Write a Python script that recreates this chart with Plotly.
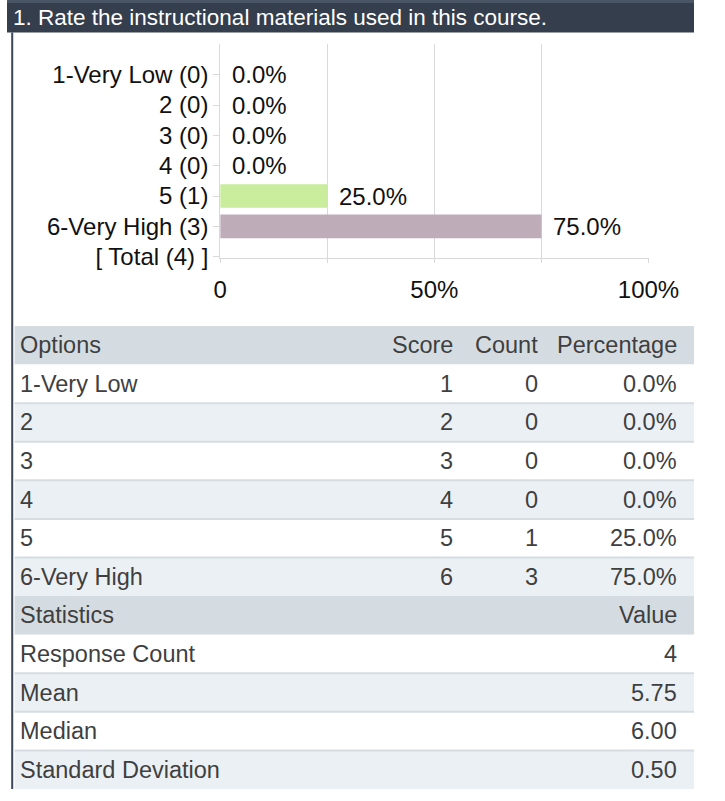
import plotly.graph_objects as go

# ---------------- data ----------------
options = ["1-Very Low", "2", "3", "4", "5", "6-Very High"]
scores = [1, 2, 3, 4, 5, 6]
counts = [0, 0, 0, 0, 1, 3]
percentages = [0.0, 0.0, 0.0, 0.0, 25.0, 75.0]
total_count = 4
x_tick_vals = [0, 25, 50, 75, 100]
x_tick_text = ["0", "", "50%", "", "100%"]
stats_labels = ["Response Count", "Mean", "Median", "Standard Deviation"]
stats_values = ["4", "5.75", "6.00", "0.50"]
title_text = "1. Rate the instructional materials used in this course."

# ---------------- styles ----------------
W, H = 725, 801
FONT = "Arial, 'Liberation Sans', sans-serif"
bar_colors = ["#cccccc", "#cccccc", "#cccccc", "#cccccc", "#c9ec9d", "#bfacb9"]
grid_col = "#d9d9d9"
txt_col = "#111111"
tbl_txt = "#3f3f3f"
hdr_fill = "#d5dce1"
light_fill = "#ebf0f4"
sep_col = "#d6dde2"
CHART_FS = 24
TABLE_FS = 23.5
TITLE_FS = 22.5

cat_labels = [f"{o} ({c})" for o, c in zip(options, counts)] + [f"[ Total ({total_count}) ]"]
cat_idx = list(range(len(cat_labels)))

fig = go.Figure()
fig.add_trace(go.Bar(
    x=percentages, y=cat_idx[:len(percentages)], orientation="h",
    marker=dict(color=bar_colors, line=dict(width=0)),
    width=0.78, hoverinfo="skip", showlegend=False,
))

# value labels next to bars
annotations = []
for i, p in enumerate(percentages):
    annotations.append(dict(
        x=p, y=i, xref="x", yref="y", text=f"{p:.1f}%", showarrow=False,
        xanchor="left", yanchor="middle", xshift=10,
        font=dict(family=FONT, size=CHART_FS, color=txt_col),
    ))

# title bar
shapes = [
    dict(type="rect", xref="paper", yref="paper", x0=0, x1=1, y0=1 - 33 / H, y1=1,
         fillcolor="#343e4d", line=dict(width=0), layer="below"),
    dict(type="rect", xref="paper", yref="paper", x0=0, x1=1, y0=1 - 3 / H, y1=1,
         fillcolor="#4a5566", line=dict(width=0), layer="below"),
    dict(type="line", xref="paper", yref="paper", x0=5.5 / W, x1=5.5 / W, y0=0, y1=1 - 33 / H,
         line=dict(color="#3b4656", width=2)),
]
annotations.append(dict(
    x=4 / W, y=1 - 18 / H, xref="paper", yref="paper", text=title_text, showarrow=False,
    xanchor="left", yanchor="middle", font=dict(family=FONT, size=TITLE_FS, color="white"),
))

# ---------------- table (on its own axes, one unit per row) ----------------
rows = []
rows.append(("hdr", ["Options", "Score", "Count", "Percentage"]))
for o, s, c, p in zip(options, scores, counts, percentages):
    rows.append(("row", [o, str(s), str(c), f"{p:.1f}%"]))
rows.append(("hdr", ["Statistics", "", "", "Value"]))
for l, v in zip(stats_labels, stats_values):
    rows.append(("row", [l, "", "", v]))

col_pos = [(12, "left"), (473, "right"), (563, "right"), (709, "right")]
n_rows = len(rows)
alt = 0
prev_kind = None
for r, (kind, cells) in enumerate(rows):
    if kind == "hdr":
        fill = hdr_fill
        alt = 0
    else:
        fill = "white" if alt % 2 == 0 else light_fill
        alt += 1
    shapes.append(dict(type="rect", xref="x2", yref="y2", x0=8, x1=W, y0=r, y1=r + 1,
                       fillcolor=fill, line=dict(width=0), layer="below"))
    if kind == "row" and prev_kind == "row":
        shapes.append(dict(type="line", xref="x2", yref="y2", x0=8, x1=W, y0=r, y1=r,
                           line=dict(color=sep_col, width=2)))
    prev_kind = kind
    for (xp, al), t in zip(col_pos, cells):
        if t == "":
            continue
        annotations.append(dict(
            x=xp, y=r + 0.5, xref="x2", yref="y2", text=t, showarrow=False,
            xanchor=al, yanchor="middle",
            font=dict(family=FONT, size=TABLE_FS, color=tbl_txt),
        ))

fig.update_layout(
    width=W, height=H, margin=dict(l=0, r=0, t=0, b=0),
    paper_bgcolor="white", plot_bgcolor="white",
    font=dict(family=FONT, size=CHART_FS, color=txt_col),
    xaxis=dict(
        domain=[225 / W, 677 / W], range=[0, 100],
        tickvals=x_tick_vals, ticktext=x_tick_text,
        showgrid=True, gridcolor=grid_col, gridwidth=1,
        showline=True, linecolor=grid_col, linewidth=1,
        ticks="outside", ticklen=4, tickcolor=grid_col,
        zeroline=False, ticklabelstandoff=6,
        tickfont=dict(family=FONT, size=CHART_FS, color=txt_col), fixedrange=True,
    ),
    yaxis=dict(
        domain=[1 - 262 / H, 1 - 45 / H], range=[len(cat_labels) - 0.955, -1],
        tickvals=cat_idx, ticktext=cat_labels,
        showgrid=False, zeroline=False,
        showline=True, linecolor=grid_col, linewidth=1,
        ticks="outside", ticklen=6, tickcolor=grid_col,
        tickfont=dict(family=FONT, size=CHART_FS, color=txt_col), fixedrange=True,
    ),
    xaxis2=dict(domain=[0, 1], range=[0, W], visible=False, anchor="y2", fixedrange=True),
    yaxis2=dict(domain=[0, 1 - 331 / H], range=[n_rows, 0], visible=False, anchor="x2", fixedrange=True),
    shapes=shapes, annotations=annotations,
)

fig.write_html(
    "out.html",
    config={"displayModeBar": False},
    post_script="document.body.style.margin='0';document.body.style.overflow='hidden';",
)
